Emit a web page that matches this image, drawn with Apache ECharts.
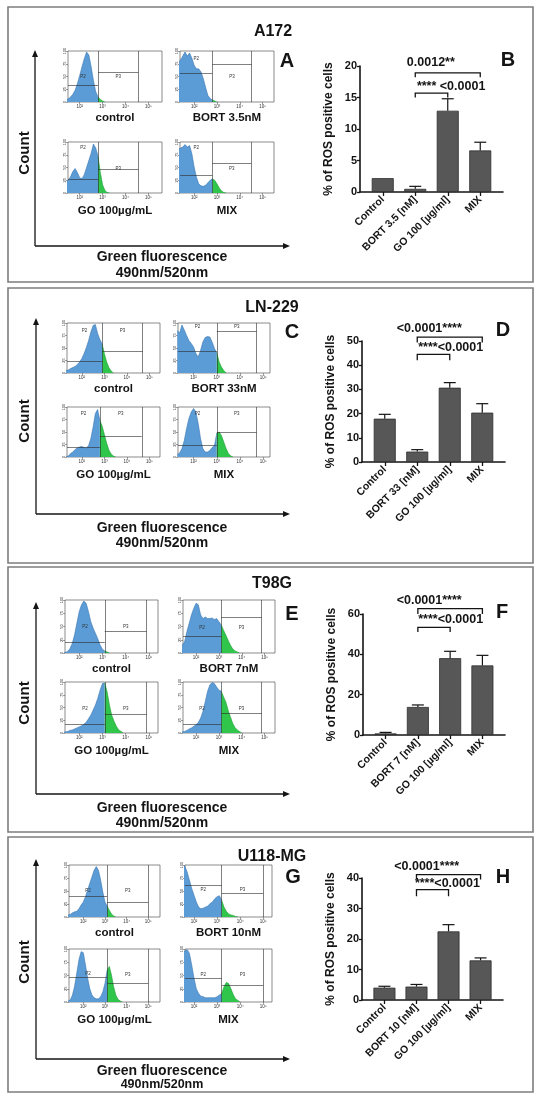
<!DOCTYPE html>
<html>
<head>
<meta charset="utf-8">
<script src="https://cdn.jsdelivr.net/npm/echarts@6/dist/echarts.min.js"></script>
<style>
  html, body { margin: 0; padding: 0; background: #fff; }
  #chart { width: 550px; height: 1099px; }
</style>
</head>
<body>
<div id="chart"></div>
<script>
// fluorescence bins (log10 of intensity) shared by all histograms
const bins = [1.3,1.4,1.5,1.6,1.7,1.8,1.9,2.0,2.1,2.2,2.3,2.4,2.5,2.6,2.7,2.8,2.9,3.0,3.1,3.2,3.3,3.4,3.5,3.6,3.7,3.8,3.9,4.0];
const decadeTicks = [2, 3, 4, 5];
const decadeLabels = ['10²', '10³', '10⁴', '10⁵'];

// A172 - histogram heights (% of plot height), gates, bars
const a172HistNames = ['control', 'BORT 3.5nM', 'GO 100µg/mL', 'MIX'];
const a172Control = [4,5,6,10,15,23,36,52,69,85,98,92,69,42,20,10,5,2,0];
const a172Bort = [78,82,90,98,90,96,86,72,65,65,59,46,29,13,7,4,2,0];
const a172Go = [20,22,25,32,42,48,40,30,28,36,50,64,78,96,88,72,40,16,5,1,0];
const a172Mix = [86,88,90,95,90,93,77,51,31,18,14,13,15,20,25,28,25,18,10,4,1,0];
const a172Gates = [2.8, 2.8, 2.8, 2.8];
const a172P3Right = [4.56, 4.52, 4.56, 4.5];
const a172P2Level = [33, 56, 27, 35];
const a172P3Level = [59, 75, 46, 58];
const a172Groups = ['Control', 'BORT 3.5 [nM]', 'GO 100 [µg/ml]', 'MIX'];
const a172Mean = [2.2, 0.5, 12.9, 6.6];
const a172Sd = [0, 0.4, 1.9, 1.3];
const a172Sig = [[1, 3, '0.0012**'], [1, 2, '**** <0.0001']];

// LN-229
const ln229HistNames = ['control', 'BORT 33nM', 'GO 100µg/mL', 'MIX'];
const ln229Control = [5,6,9,11,13,17,22,29,39,51,65,82,95,97,79,67,58,39,22,11,4,0];
const ln229Bort = [85,80,96,86,75,65,59,52,39,32,45,62,71,73,72,62,49,40,22,12,5,0];
const ln229Go = [1,2,7,10,15,18,20,21,19,18,23,37,60,87,95,73,62,45,28,14,6,2,0];
const ln229Mix = [5,8,17,33,57,77,90,97,90,67,37,17,10,10,13,19,23,48,50,43,30,17,7,2,0];
const ln229Gates = [2.9, 3.0, 2.8, 3.0];
const ln229P3Right = [4.7, 4.71, 4.66, 4.71];
const ln229P2Level = [23, 43, 20, 23];
const ln229P3Level = [44, 83, 41, 50];
const ln229Groups = ['Control', 'BORT 33 [nM]', 'GO 100 [µg/ml]', 'MIX'];
const ln229Mean = [17.9, 4.3, 30.7, 20.4];
const ln229Sd = [1.8, 0.8, 2.1, 3.7];
const ln229Sig = [[1, 3, '<0.0001****'], [1, 2, '****<0.0001']];

// T98G
const t98gHistNames = ['control', 'BORT 7nM', 'GO 100µg/mL', 'MIX'];
const t98gControl = [0,1,3,8,18,34,56,78,91,98,94,78,59,47,37,27,15,7,4,2,0];
const t98gBort = [10,15,21,40,56,72,84,94,91,72,65,68,65,65,66,63,65,59,53,43,34,24,15,8,4,2,0];
const t98gGo = [1,2,3,5,6,8,10,12,14,17,21,28,35,45,55,68,84,97,98,81,55,35,23,13,6,3,0];
const t98gMix = [1,2,3,5,8,10,13,16,21,29,42,61,81,94,99,97,90,84,82,71,61,45,32,19,11,6,3,0];
const t98gGates = [3.1, 3.1, 3.1, 3.1];
const t98gP3Right = [4.9, 4.87, 4.9, 4.87];
const t98gP2Level = [20, 32, 17, 17];
const t98gP3Level = [41, 67, 37, 39];
const t98gGroups = ['Control', 'BORT 7 [nM]', 'GO 100 [µg/ml]', 'MIX'];
const t98gMean = [0.8, 13.9, 38.1, 34.5];
const t98gSd = [0.5, 1.0, 3.4, 5.0];
const t98gSig = [[1, 3, '<0.0001****'], [1, 2, '****<0.0001']];

// U118-MG
const u118HistNames = ['control', 'BORT 10nM', 'GO 100µg/mL', 'MIX'];
const u118Control = [4,5,8,10,11,16,23,29,39,52,65,77,90,97,90,71,48,29,21,13,6,2,0];
const u118Bort = [100,100,100,98,87,71,55,42,29,19,16,17,19,21,26,29,35,39,41,32,19,11,6,4,3,1,0];
const u118Go = [2,4,13,30,55,80,95,93,70,45,25,13,8,6,6,10,19,35,60,67,51,29,13,5,2,0];
const u118Mix = [95,95,95,96,99,92,70,45,25,16,11,10,8,8,8,8,8,10,13,16,29,37,35,25,14,6,3,0];
const u118Gates = [3.1, 3.2, 3.1, 3.2];
const u118P3Right = [5.0, 5.0, 5.0, 5.0];
const u118P2Level = [39, 61, 46, 45];
const u118P3Level = [29, 45, 35, 32];
const u118Groups = ['Control', 'BORT 10 [nM]', 'GO 100 [µg/ml]', 'MIX'];
const u118Mean = [4.05, 4.4, 22.5, 13.0];
const u118Sd = [0.45, 0.7, 2.2, 0.8];
const u118Sig = [[1, 3, '<0.0001****'], [1, 2, '****<0.0001']];

const FONT = '"Liberation Sans", Arial, Helvetica, sans-serif';
const INK = '#141414';
const BLUE = '#5b9cd6', BLUE_EDGE = '#3a76b2';
const GREEN = '#2fc64b', GREEN_EDGE = '#1f9a36';
const BAR = '#575757';

const panels = [
  {
    title: 'A172', letters: ['A', 'B'],
    histNames: a172HistNames, hists: [a172Control, a172Bort, a172Go, a172Mix],
    gates: a172Gates, p3Right: a172P3Right, p2Level: a172P2Level, p3Level: a172P3Level,
    groups: a172Groups, mean: a172Mean, sd: a172Sd, sig: a172Sig, yMax: 20, yStep: 5,
    layout: {
      box: [7, 275], titleAt: [273, 32], letterAt: [[287, 61], [508, 60]],
      arrow: { x: 35, top: 50, bottom: 246, right: 290 }, countY: 153, greenY: 257, nmY: 273, nmSize: 14,
      histCols: [[68, 162], [180, 274]], histRows: [[51, 102], [142, 193]],
      xRanges: [[1.49, 5.59], [1.38, 5.5]],
      gateText: [[49, 49], [85, 49], [88, 47], [88, 47]],
      bar: { left: 360, top: 66, width: 143, height: 126 },
      brackets: [{ line: 18.9, drop: 18.2, lx: 1.48, ly: 20.5, align: 'center' },
                 { line: 15.7, drop: 15.0, lx: 1.05, ly: 16.8, align: 'left' }]
    }
  },
  {
    title: 'LN-229', letters: ['C', 'D'],
    histNames: ln229HistNames, hists: [ln229Control, ln229Bort, ln229Go, ln229Mix],
    gates: ln229Gates, p3Right: ln229P3Right, p2Level: ln229P2Level, p3Level: ln229P3Level,
    groups: ln229Groups, mean: ln229Mean, sd: ln229Sd, sig: ln229Sig, yMax: 50, yStep: 10,
    layout: {
      box: [288, 275], titleAt: [272, 308], letterAt: [[292, 332], [503, 330]],
      arrow: { x: 36, top: 318, bottom: 514, right: 290 }, countY: 421, greenY: 528, nmY: 543, nmSize: 14,
      histCols: [[67, 160], [178, 270]], histRows: [[323, 373], [407, 457]],
      xRanges: [[1.34, 5.47], [1.33, 5.29]],
      gateText: [[85, 85], [92, 92], [87, 87], [87, 87]],
      bar: { left: 362, top: 341, width: 143, height: 121 },
      brackets: [{ line: 51.6, drop: 49.4, lx: 1.37, ly: 55.2, align: 'center' },
                 { line: 44.5, drop: 42.0, lx: 1.03, ly: 47.5, align: 'left' }]
    }
  },
  {
    title: 'T98G', letters: ['E', 'F'],
    histNames: t98gHistNames, hists: [t98gControl, t98gBort, t98gGo, t98gMix],
    gates: t98gGates, p3Right: t98gP3Right, p2Level: t98gP2Level, p3Level: t98gP3Level,
    groups: t98gGroups, mean: t98gMean, sd: t98gSd, sig: t98gSig, yMax: 60, yStep: 20,
    layout: {
      box: [567, 265], titleAt: [272, 584], letterAt: [[292, 614], [502, 612]],
      arrow: { x: 36, top: 602, bottom: 794, right: 290 }, countY: 703, greenY: 808, nmY: 823, nmSize: 14,
      histCols: [[65, 158], [183, 275]], histRows: [[600, 653], [682, 733]],
      xRanges: [[1.39, 5.39], [1.43, 5.45]],
      gateText: [[49, 49], [47, 47], [48, 48], [48, 48]],
      bar: { left: 363, top: 614, width: 142, height: 121 },
      brackets: [{ line: 62.7, drop: 60.0, lx: 1.35, ly: 66.7, align: 'center' },
                 { line: 53.4, drop: 51.1, lx: 1.01, ly: 57.2, align: 'left' }]
    }
  },
  {
    title: 'U118-MG', letters: ['G', 'H'],
    histNames: u118HistNames, hists: [u118Control, u118Bort, u118Go, u118Mix],
    gates: u118Gates, p3Right: u118P3Right, p2Level: u118P2Level, p3Level: u118P3Level,
    groups: u118Groups, mean: u118Mean, sd: u118Sd, sig: u118Sig, yMax: 40, yStep: 10,
    layout: {
      box: [837, 255], titleAt: [272, 857], letterAt: [[293, 877], [503, 877]],
      arrow: { x: 36, top: 859, bottom: 1059, right: 290 }, countY: 962, greenY: 1071, nmY: 1085, nmSize: 12.5,
      histCols: [[69, 160], [185, 272]], histRows: [[865, 917], [949, 1002]],
      xRanges: [[1.34, 5.54], [1.61, 5.38]],
      gateText: [[50, 50], [52, 52], [54, 52], [52, 52]],
      bar: { left: 362, top: 878, width: 141, height: 122 },
      brackets: [{ line: 41.1, drop: 39.5, lx: 1.32, ly: 43.6, align: 'center' },
                 { line: 36.2, drop: 34.0, lx: 0.95, ly: 38.2, align: 'left' }]
    }
  }
];

const grid = [], xAxis = [], yAxis = [], series = [], elements = [];

function text(x, y, str, size, rot) {
  return {
    type: 'text', x: x, y: y, rotation: rot || 0, silent: true, z: 10,
    style: {
      text: str, font: 'bold ' + size + 'px ' + FONT, fill: INK,
      align: 'center', verticalAlign: 'middle', textAlign: 'center', textVerticalAlign: 'middle'
    }
  };
}

function arrows(a) {
  const s = { stroke: INK, lineWidth: 1.3 };
  return [
    { type: 'line', silent: true, shape: { x1: a.x, y1: a.bottom, x2: a.x, y2: a.top + 5 }, style: s },
    { type: 'line', silent: true, shape: { x1: a.x, y1: a.bottom, x2: a.right - 5, y2: a.bottom }, style: s },
    { type: 'polygon', silent: true, shape: { points: [[a.x - 3, a.top + 7], [a.x + 3, a.top + 7], [a.x, a.top]] }, style: { fill: INK } },
    { type: 'polygon', silent: true, shape: { points: [[a.right - 7, a.bottom - 3], [a.right - 7, a.bottom + 3], [a.right, a.bottom]] }, style: { fill: INK } }
  ];
}

function addHist(p, k) {
  const L = p.layout;
  const col = k % 2, row = Math.floor(k / 2);
  const [x0, x1] = L.histCols[col];
  const [y0, y1] = L.histRows[row];
  const [xmin, xmax] = L.xRanges[col];
  const gi = grid.length;
  grid.push({ left: x0, top: y0, width: x1 - x0, height: y1 - y0, show: true, borderColor: '#5a5a5a', borderWidth: 0.7, backgroundColor: 'transparent' });
  xAxis.push({
    type: 'value', gridIndex: gi, min: xmin, max: xmax,
    name: p.histNames[k], nameLocation: 'middle', nameGap: row ? 12 : 10,
    nameTextStyle: { fontFamily: FONT, fontWeight: 'bold', fontSize: 11.5, color: INK },
    axisLine: { show: false, onZero: false }, splitLine: { show: false },
    axisTick: { show: true, customValues: decadeTicks, length: 2, lineStyle: { color: '#444', width: 0.5 } },
    axisLabel: { customValues: decadeTicks, formatter: v => decadeLabels[decadeTicks.indexOf(v)], fontSize: 4.5, margin: 2, color: '#333' }
  });
  yAxis.push({
    type: 'value', gridIndex: gi, min: 0, max: 100, interval: 25,
    axisLine: { show: false, onZero: false }, splitLine: { show: false },
    axisTick: { show: true, length: 2, lineStyle: { color: '#444', width: 0.5 } },
    axisLabel: { fontSize: 4, rotate: 90, margin: 1.5, color: '#333' }
  });

  const vals = p.hists[k], gate = p.gates[k], p3r = p.p3Right[k];
  const blue = [], green = [];
  vals.forEach((v, i) => {
    if (bins[i] <= gate + 1e-6) blue.push([bins[i], v]);
    if (bins[i] >= gate - 1e-6) green.push([bins[i], v]);
  });
  const [p2y, p3y] = L.gateText[k];

  series.push({
    type: 'line', xAxisIndex: gi, yAxisIndex: gi, data: blue, symbol: 'none', silent: true, z: 2,
    lineStyle: { color: BLUE_EDGE, width: 0.6 }, areaStyle: { color: BLUE, opacity: 1 }
  });
  series.push({
    type: 'line', xAxisIndex: gi, yAxisIndex: gi, data: green, symbol: 'none', silent: true, z: 3,
    lineStyle: { color: GREEN_EDGE, width: 0.6 }, areaStyle: { color: GREEN, opacity: 1 },
    markLine: {
      symbol: ['none', 'none'], silent: true, animation: false, label: { show: false },
      lineStyle: { color: '#2a2a2a', width: 0.6, type: 'solid' },
      data: [
        { xAxis: gate },
        { xAxis: p3r },
        [{ coord: [xmin, p.p2Level[k]] }, { coord: [gate, p.p2Level[k]] }],
        [{ coord: [gate, p.p3Level[k]] }, { coord: [p3r, p.p3Level[k]] }]
      ]
    },
    markPoint: {
      symbol: 'circle', symbolSize: 1, silent: true, animation: false,
      itemStyle: { color: 'rgba(0,0,0,0)' },
      label: { show: true, position: 'inside', formatter: '{b}', fontSize: 4.5, color: '#333' },
      data: [
        { name: 'P2', coord: [(xmin + gate) / 2, p2y] },
        { name: 'P3', coord: [(gate + p3r) / 2, p3y] }
      ]
    }
  });
}

function addBars(p) {
  const B = p.layout.bar;
  const gi = grid.length;
  const idx = [0, 1, 2, 3];
  grid.push({ left: B.left, top: B.top, width: B.width, height: B.height });
  xAxis.push({
    type: 'value', gridIndex: gi, min: -0.7, max: 3.7, splitLine: { show: false },
    axisLine: { show: true, onZero: false, lineStyle: { color: INK, width: 1.6 } },
    axisTick: { show: true, customValues: idx, length: 4, lineStyle: { color: INK, width: 1.3 } },
    axisLabel: {
      customValues: idx, formatter: v => p.groups[Math.round(v)], rotate: 45, margin: 6,
      fontFamily: FONT, fontWeight: 'bold', fontSize: 10.5, color: INK
    }
  });
  yAxis.push({
    type: 'value', gridIndex: gi, min: 0, max: p.yMax, interval: p.yStep, splitLine: { show: false },
    axisLine: { show: true, onZero: false, lineStyle: { color: INK, width: 1.6 } },
    axisTick: { show: true, length: 3, lineStyle: { color: INK, width: 1.3 } },
    axisLabel: { fontFamily: FONT, fontWeight: 'bold', fontSize: 11, color: INK, margin: 3 },
    name: '% of ROS positive cells', nameLocation: 'middle', nameGap: 25,
    nameTextStyle: { fontFamily: FONT, fontWeight: 'bold', fontSize: 12, color: INK }
  });
  series.push({
    type: 'bar', xAxisIndex: gi, yAxisIndex: gi, barWidth: 22, silent: true,
    data: p.groups.map((g, i) => [i, p.mean[i]]),
    itemStyle: { color: BAR, borderColor: '#2e2e2e', borderWidth: 0.8 }
  });
  // error bars (mean + SD, upper only)
  series.push({
    type: 'custom', xAxisIndex: gi, yAxisIndex: gi, silent: true, z: 4,
    data: p.groups.map((g, i) => [i, p.mean[i], p.sd[i]]),
    encode: { x: 0, y: 1 },
    renderItem: (params, api) => {
      const x = api.value(0), m = api.value(1), s = api.value(2);
      if (!s) return { type: 'group', children: [] };
      const a = api.coord([x, m]), b = api.coord([x, m + s]);
      const st = { stroke: INK, lineWidth: 1.2 };
      return {
        type: 'group', children: [
          { type: 'line', shape: { x1: a[0], y1: a[1], x2: b[0], y2: b[1] }, style: st },
          { type: 'line', shape: { x1: b[0] - 6, y1: b[1], x2: b[0] + 6, y2: b[1] }, style: st }
        ]
      };
    }
  });
  // significance brackets
  series.push({
    type: 'custom', xAxisIndex: gi, yAxisIndex: gi, silent: true, z: 5, clip: false,
    data: p.sig.map((s, i) => [s[0], p.layout.brackets[i].line]),
    encode: { x: 0, y: 1 },
    renderItem: (params, api) => {
      const s = p.sig[params.dataIndex], b = p.layout.brackets[params.dataIndex];
      const a = api.coord([s[0], b.line]), c = api.coord([s[1], b.line]);
      const ad = api.coord([s[0], b.drop]), cd = api.coord([s[1], b.drop]);
      const t = api.coord([b.lx, b.ly]);
      return {
        type: 'group', children: [
          { type: 'polyline', shape: { points: [ad, a, c, cd] }, style: { stroke: INK, lineWidth: 1.3, fill: null } },
          {
            type: 'text', x: t[0], y: t[1],
            style: {
              text: s[2], font: 'bold 12.5px ' + FONT, fill: INK,
              align: b.align, verticalAlign: 'middle', textAlign: b.align, textVerticalAlign: 'middle'
            }
          }
        ]
      };
    }
  });
}

panels.forEach(p => {
  const L = p.layout;
  elements.push({
    type: 'rect', silent: true, z: 0,
    shape: { x: 8, y: L.box[0], width: 525, height: L.box[1] },
    style: { fill: 'none', stroke: '#7d7d7d', lineWidth: 1.6 }
  });
  elements.push(text(L.titleAt[0], L.titleAt[1], p.title, 16));
  elements.push(text(L.letterAt[0][0], L.letterAt[0][1], p.letters[0], 20));
  elements.push(text(L.letterAt[1][0], L.letterAt[1][1], p.letters[1], 20));
  arrows(L.arrow).forEach(e => elements.push(e));
  elements.push(text(25, L.countY, 'Count', 15, Math.PI / 2));
  elements.push(text(162, L.greenY, 'Green fluorescence', 14));
  elements.push(text(162, L.nmY, '490nm/520nm', L.nmSize));
  for (let k = 0; k < 4; k++) addHist(p, k);
  addBars(p);
});

const chart = echarts.init(document.getElementById('chart'));
chart.setOption({
  animation: false,
  backgroundColor: '#fff',
  textStyle: { fontFamily: FONT },
  grid: grid,
  xAxis: xAxis,
  yAxis: yAxis,
  series: series,
  graphic: { elements: elements }
});
</script>
</body>
</html>
